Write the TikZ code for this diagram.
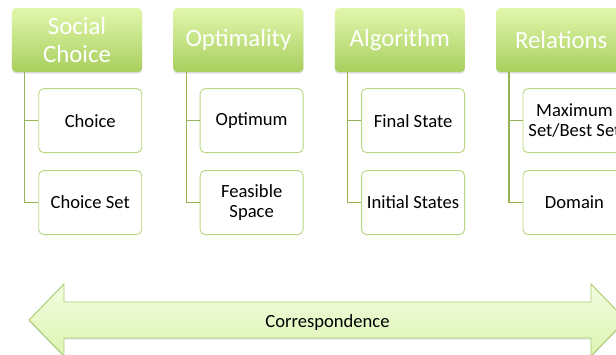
\documentclass[tikz,border=0pt]{standalone}
\usepackage{fontspec}
\setmainfont{Carlito}
\usetikzlibrary{shadows, positioning}

\definecolor{headtop}{RGB}{225,247,172}
\definecolor{headbot}{RGB}{168,207,94}
\definecolor{itemline}{RGB}{184,215,128}
\definecolor{linkline}{RGB}{150,180,86}
\definecolor{arrtop}{RGB}{243,253,224}
\definecolor{arrbot}{RGB}{220,244,178}
\definecolor{arrline}{RGB}{166,202,108}

\begin{document}
\begin{tikzpicture}[
  header/.style={rectangle, rounded corners=4pt, minimum width=130pt, minimum height=64pt,
                 top color=headtop, bottom color=headbot, text=white, align=center,
                 inner sep=0pt, font=\fontsize{24.8}{28}\selectfont,
                 drop shadow={opacity=0.25, shadow xshift=0pt, shadow yshift=-1.5pt}},
  item/.style={rectangle, draw=itemline, line width=0.9pt, rounded corners=5pt, fill=white,
               minimum width=103pt, minimum height=64pt, align=center, inner sep=0pt,
               font=\fontsize{18.6}{20}\selectfont},
  link/.style={draw=linkline, line width=1.3pt},
  corr/.style={draw=arrline, line width=0.9pt, top color=arrtop, bottom color=arrbot,
               line join=miter,
               drop shadow={opacity=0.2, shadow xshift=0pt, shadow yshift=-1.5pt}},
  corrtext/.style={anchor=base, inner sep=0pt, font=\fontsize{18.6}{20}\selectfont}
]
\useasboundingbox (-77pt,40pt) rectangle (539pt,-314pt);
\clip (-77pt,40pt) rectangle (539pt,-314pt);

% headers
\node[header] (sc) at (0,0) {Social\\Choice};
\node[header, right=31pt of sc] (opt) {Optimality};
\node[header, right=31pt of opt] (alg) {Algorithm};
\node[header, right=31pt of alg] (rel) {Relations};

% items under each header
\node[item, below left=16pt and 0pt of sc.south east] (scA) {Choice};
\node[item, below=17pt of scA] (scB) {Choice Set};
\node[item, below left=16pt and 0pt of opt.south east] (optA) {Optimum};
\node[item, below=17pt of optA] (optB) {Feasible\\Space};
\node[item, below left=16pt and 0pt of alg.south east] (algA) {Final State};
\node[item, below=17pt of algA] (algB) {Initial States};
\node[item, below left=16pt and 0pt of rel.south east] (relA) {Maximum\\Set/Best Set};
\node[item, below=17pt of relA] (relB) {Domain};

\foreach \h in {sc, opt, alg, rel} {
  \draw[link] ([xshift=13pt]\h.south west) |- (\h A.west);
  \draw[link] ([xshift=13pt]\h.south west) |- (\h B.west);
}

% two-headed arrow
\path[corr] (-48pt,-280pt) -- (-13pt,-244pt) -- (-13pt,-262pt) -- (514pt,-262pt)
  -- (514pt,-244pt) -- (549pt,-280pt) -- (514pt,-316pt) -- (514pt,-298pt)
  -- (-13pt,-298pt) -- (-13pt,-316pt) -- cycle;
\node[corrtext] (cor) at (250.5pt,-287pt) {Correspondence};
\end{tikzpicture}
\end{document}
